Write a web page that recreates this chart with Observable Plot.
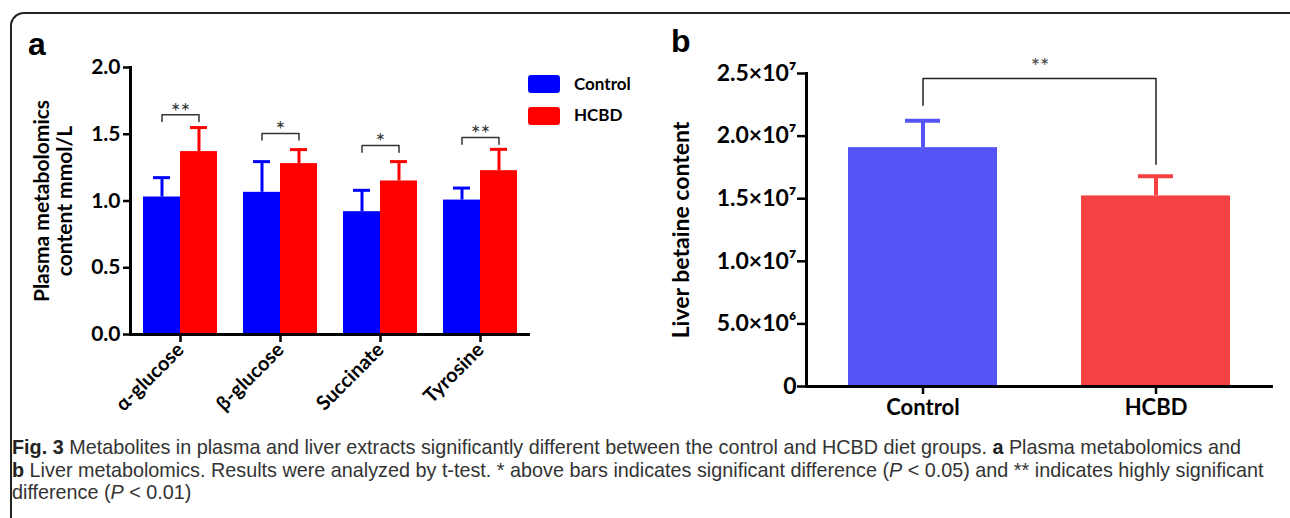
<!DOCTYPE html>
<html><head><meta charset="utf-8">
<script src="https://cdn.jsdelivr.net/npm/d3@7"></script>
<script src="https://cdn.jsdelivr.net/npm/@observablehq/plot@0.6"></script>
<style>
body{margin:0;background:#fff;}
#root{position:relative;width:1290px;height:518px;overflow:hidden;background:#fff;}
#border{position:absolute;left:10px;top:12px;width:1290px;height:600px;border-left:2px solid #222;border-top:2px solid #222;border-top-left-radius:14px;box-sizing:border-box;}
.plot{position:absolute;top:0;}
.panel{position:absolute;font-family:"Liberation Sans",Arial,sans-serif;font-weight:bold;font-size:32px;color:#000;line-height:1;}
.leg{position:absolute;font-family:Lato,sans-serif;font-weight:bold;font-size:17px;color:#000;}
.sw{position:absolute;width:32px;height:18px;border-radius:3px;}
#ylabA{position:absolute;left:-78.5px;top:177.5px;width:260px;height:46px;transform:rotate(-90deg);font-family:Lato,sans-serif;font-weight:bold;font-size:21px;line-height:23px;text-align:center;color:#000;white-space:nowrap;}
#cap{position:absolute;left:12px;top:436px;font-family:"Liberation Sans",Arial,sans-serif;font-size:19.8px;line-height:22.5px;color:#333;white-space:nowrap;}
#cap b{color:#222;}
</style></head><body><div id="root">
<div id="border"></div>
<div id="pa" class="plot" style="left:0px"></div>
<div id="pb" class="plot" style="left:650px"></div>
<div class="panel" style="left:28px;top:28px">a</div>
<div class="panel" style="left:671px;top:25px">b</div>
<div id="ylabA"><div>Plasma metabolomics</div><div>content mmol/L</div></div>
<div class="sw" style="left:528px;top:75px;background:#0000ff"></div>
<div class="sw" style="left:528px;top:107px;background:#ff0000"></div>
<div class="leg" style="left:574px;top:73px">Control</div>
<div class="leg" style="left:574px;top:104px">HCBD</div>
<div id="cap">
<div><b>Fig. 3</b> Metabolites in plasma and liver extracts significantly different between the control and HCBD diet groups. <b>a</b> Plasma metabolomics and</div>
<div><b>b</b> Liver metabolomics. Results were analyzed by t-test. * above bars indicates significant difference (<i>P</i> &lt; 0.05) and ** indicates highly significant</div>
<div>difference (<i>P</i> &lt; 0.01)</div>
</div>
</div>
<script>
// ---- Panel a data (plasma, mmol/L) ----
const categories = ["α-glucose", "β-glucose", "Succinate", "Tyrosine"];
const groups = ["Control", "HCBD"];
const plasmaControl = [1.03, 1.065, 0.92, 1.007];
const plasmaControlSD = [0.145, 0.23, 0.16, 0.09];
const plasmaHCBD = [1.37, 1.28, 1.15, 1.227];
const plasmaHCBDSD = [0.18, 0.105, 0.145, 0.16];
const plasmaSig = ["**", "*", "*", "**"];
const plasmaBracket = [1.646, 1.506, 1.416, 1.476];
const plasmaBracketLeg = 0.05;
const plasmaTicks = [0, 0.5, 1.0, 1.5, 2.0];

// ---- Panel b data (liver betaine) ----
const liverGroups = ["Control", "HCBD"];
const liverMean = [1.908e7, 1.522e7];
const liverSD = [0.214e7, 0.157e7];
const liverBracketTop = 2.46e7;
const liverBracketEnds = [2.247e7, 1.775e7];
const liverSig = "**";
const liverSigY = 2.55e7;
const liverTicks = [0, 5e6, 1e7, 1.5e7, 2e7, 2.5e7];

const colorsA = ["#0000ff", "#ff0000"];
const colorsB = ["#5555f7", "#f54141"];

const rowsA = categories.flatMap((c, i) => [
  {cat: c, group: "Control", value: plasmaControl[i], err: plasmaControl[i] + plasmaControlSD[i]},
  {cat: c, group: "HCBD", value: plasmaHCBD[i], err: plasmaHCBD[i] + plasmaHCBDSD[i]}
]);
const bracketA = categories.flatMap((c, i) => [
  {cat: c, group: "Control", y: plasmaBracket[i] - plasmaBracketLeg},
  {cat: c, group: "Control", y: plasmaBracket[i]},
  {cat: c, group: "HCBD", y: plasmaBracket[i]},
  {cat: c, group: "HCBD", y: plasmaBracket[i] - plasmaBracketLeg}
]);
const sigA = categories.map((c, i) => ({cat: c, y: plasmaBracket[i], sig: plasmaSig[i]}));

const chartA = Plot.plot({
  width: 650, height: 440,
  marginLeft: 128, marginRight: 119, marginTop: 67, marginBottom: 106,
  style: {fontFamily: "Lato, sans-serif", fontWeight: "bold", fontSize: "20px", color: "#000", background: "transparent", overflow: "visible"},
  fx: {domain: categories, padding: 0},
  x: {domain: groups, paddingInner: 0, paddingOuter: 0.325, axis: null},
  y: {domain: [0, 2]},
  color: {domain: groups, range: colorsA},
  marks: [
    Plot.barY(rowsA, {fx: "cat", x: "group", y: "value", fill: "group"}),
    Plot.ruleX(rowsA, {fx: "cat", x: "group", y1: "value", y2: "err", stroke: "group", strokeWidth: 3}),
    Plot.tickY(rowsA, {fx: "cat", x: "group", y: "err", stroke: "group", strokeWidth: 3, inset: 10}),
    Plot.line(bracketA, {fx: "cat", x: "group", y: "y", z: "cat", stroke: "#333", strokeWidth: 1.5}),
    Plot.text(sigA, {fx: "cat", y: "y", text: "sig", fontWeight: "normal", fontSize: 23, fill: "#333", lineAnchor: "bottom", dy: 5}),
    Plot.ruleY([0], {strokeWidth: 3}),
    Plot.frame({anchor: "left", facet: "super", strokeWidth: 3}),
    Plot.axisY({ticks: plasmaTicks, tickFormat: d3.format(".1f"), tickSize: 7, tickPadding: 3, strokeWidth: 2.5, fontSize: 21, label: null}),
    Plot.axisFx({anchor: "bottom", tickRotate: -45, tickSize: 8, tickPadding: 4, strokeWidth: 2.5, label: null, fontSize: 20})
  ]
});
document.getElementById("pa").append(chartA);

// ---- Panel b ----
const rowsB = liverGroups.map((g, i) => ({group: g, value: liverMean[i], err: liverMean[i] + liverSD[i]}));
const bracketB = [
  {group: liverGroups[0], y: liverBracketEnds[0]},
  {group: liverGroups[0], y: liverBracketTop},
  {group: liverGroups[1], y: liverBracketTop},
  {group: liverGroups[1], y: liverBracketEnds[1]}
];
const sup = {"6": "⁶", "7": "⁷"};
const fmtB = d => {
  if (d === 0) return "0";
  const e = Math.floor(Math.log10(d));
  return (d / 10 ** e).toFixed(1) + "×10" + String(e).split("").map(c => sup[c] || c).join("");
};

const chartB = Plot.plot({
  width: 640, height: 440,
  marginLeft: 156, marginRight: 17, marginTop: 73, marginBottom: 54,
  style: {fontFamily: "Lato, sans-serif", fontWeight: "bold", fontSize: "22px", color: "#000", background: "transparent", overflow: "visible"},
  x: {domain: liverGroups, paddingInner: 0.359, paddingOuter: 0.178},
  y: {domain: [0, 2.5e7]},
  color: {domain: liverGroups, range: colorsB},
  marks: [
    Plot.barY(rowsB, {x: "group", y: "value", fill: "group"}),
    Plot.ruleX(rowsB, {x: "group", y1: "value", y2: "err", stroke: "group", strokeWidth: 4}),
    Plot.tickY(rowsB, {x: "group", y: "err", stroke: "group", strokeWidth: 4, inset: 57}),
    Plot.line(bracketB, {x: "group", y: "y", stroke: "#222", strokeWidth: 1.5}),
    Plot.text([liverSig], {y: liverSigY, text: d => d, fontWeight: "normal", fontSize: 22, fill: "#444"}),
    Plot.ruleY([0], {strokeWidth: 3}),
    Plot.frame({anchor: "left", strokeWidth: 3}),
    Plot.axisY({ticks: liverTicks, tickFormat: fmtB, tickSize: 9, tickPadding: 1, strokeWidth: 2.5, fontSize: 23,
      label: "Liver betaine content", labelAnchor: "center", labelOffset: 134, labelArrow: false}),
    Plot.axisX({tickSize: 8, tickPadding: 5, strokeWidth: 2.5, label: null, fontSize: 22})
  ]
});
document.getElementById("pb").append(chartB);
</script>
</body></html>
